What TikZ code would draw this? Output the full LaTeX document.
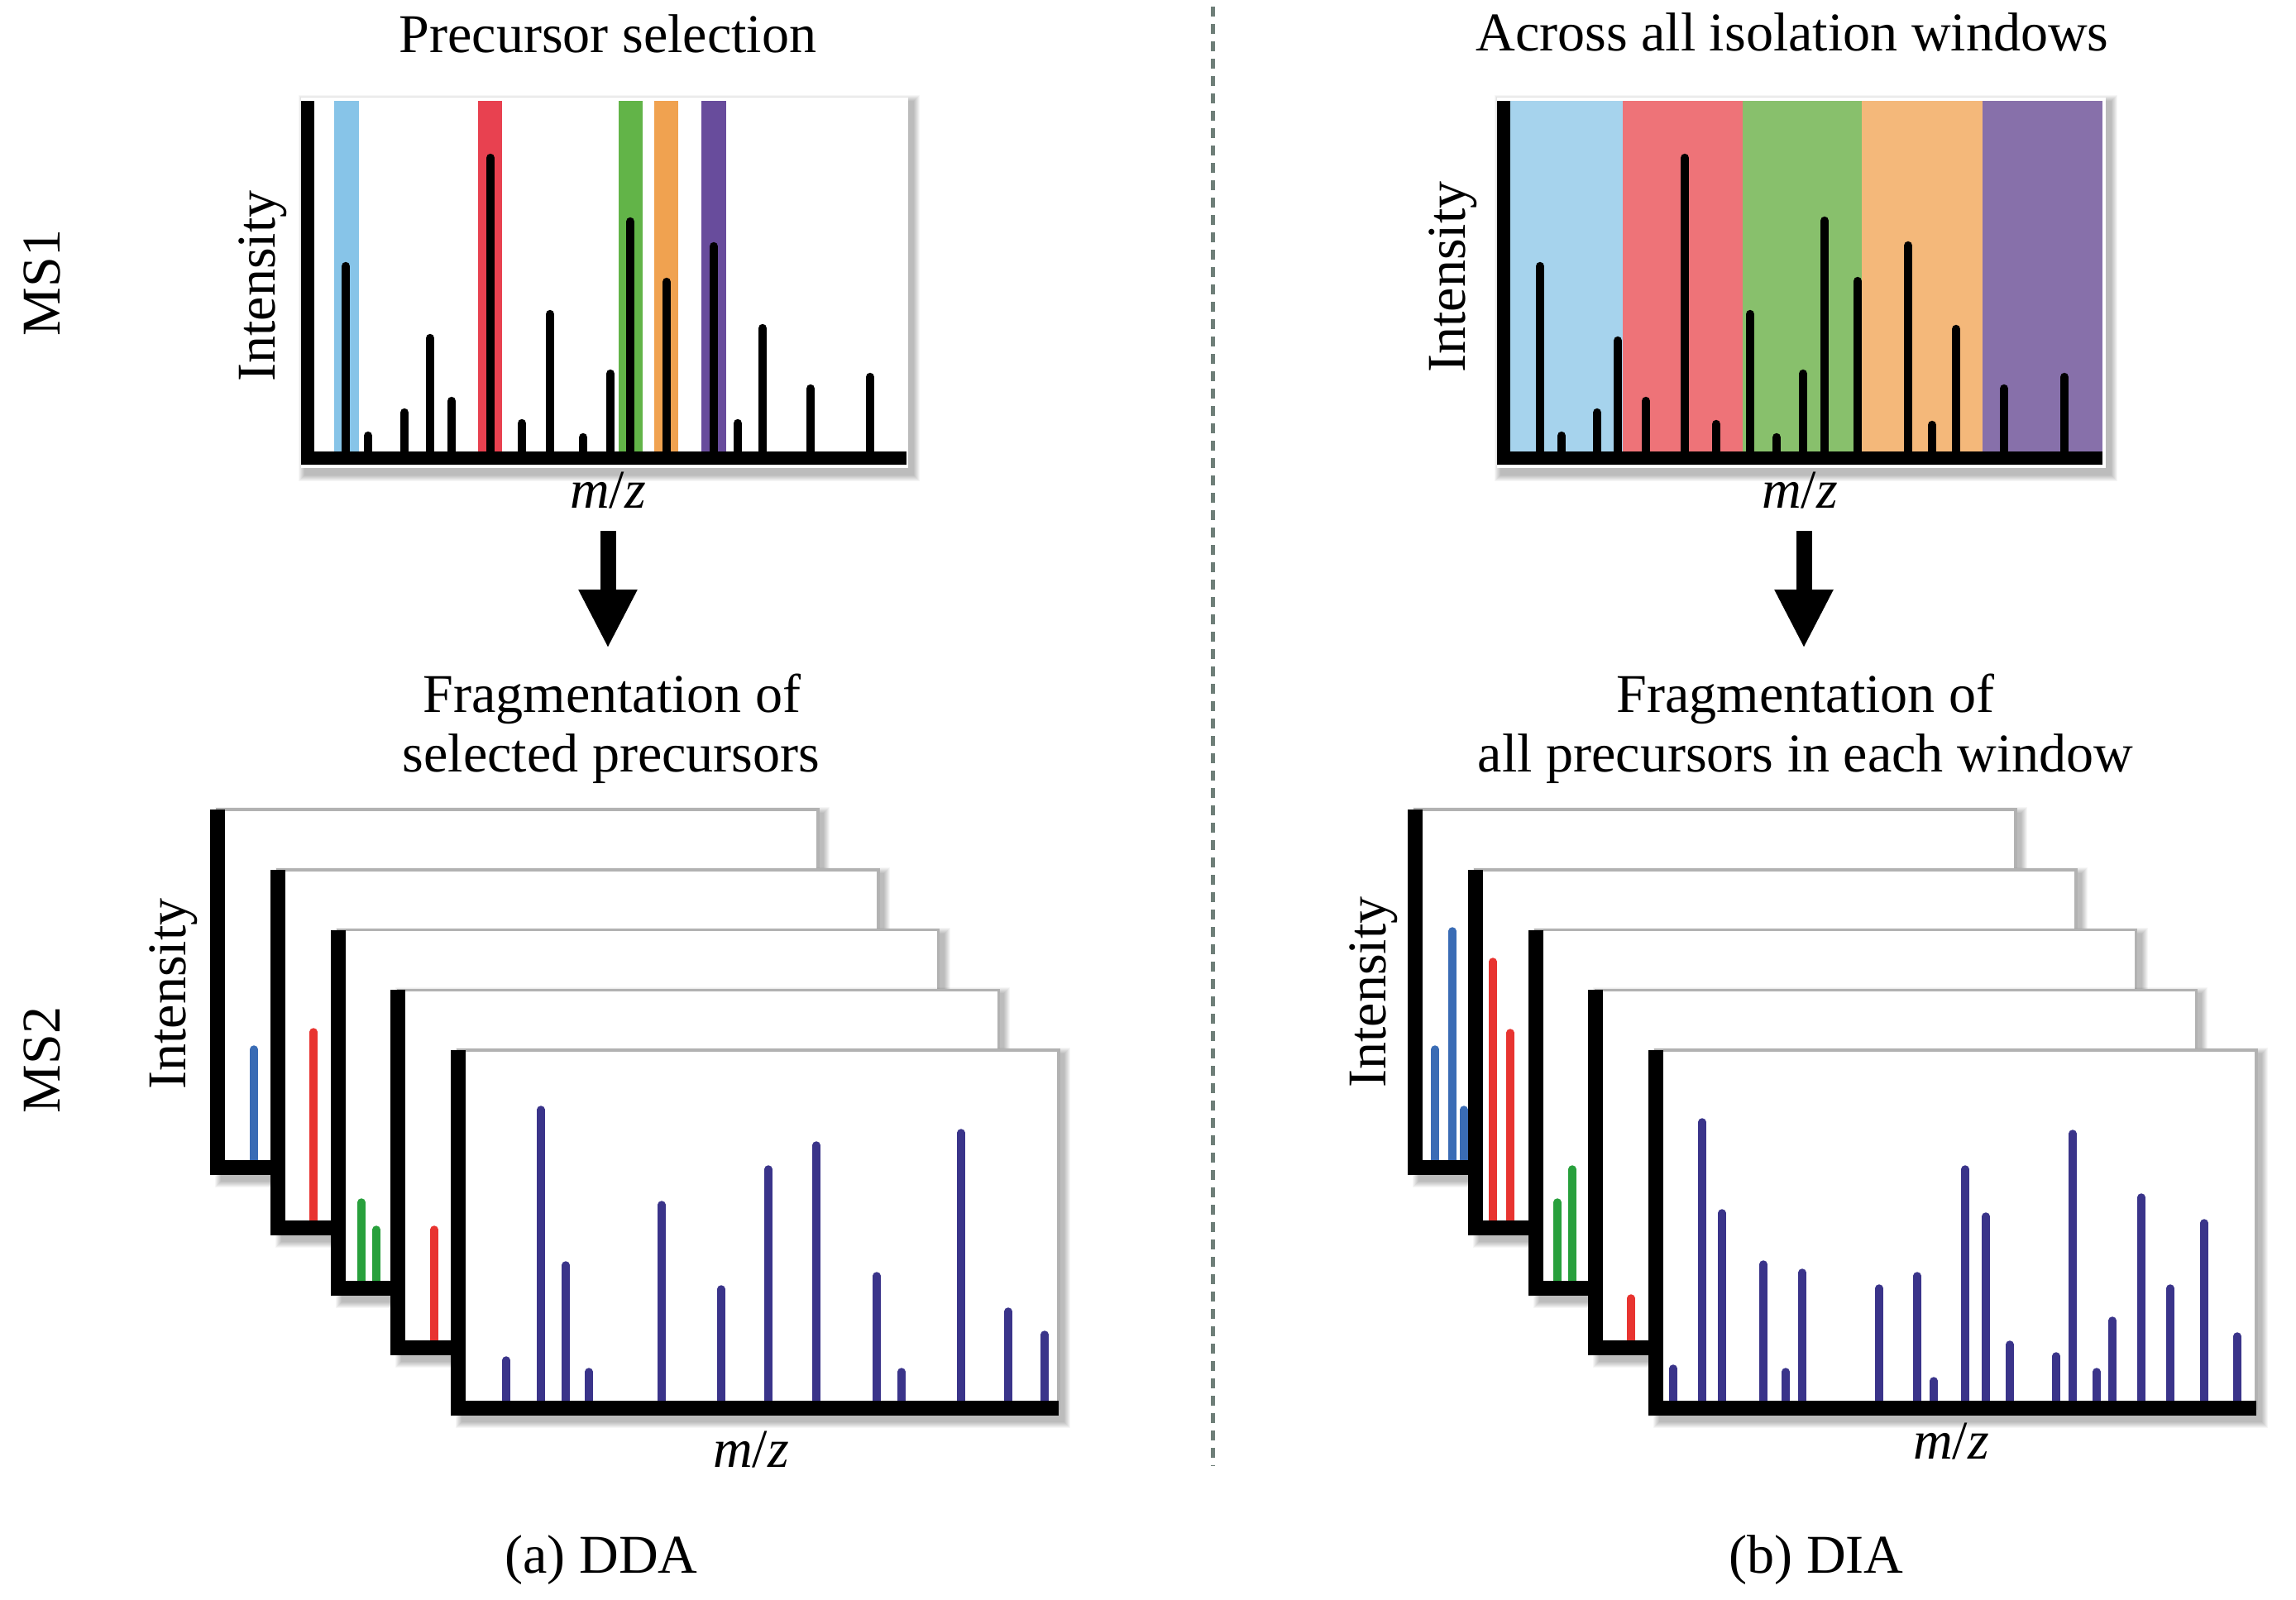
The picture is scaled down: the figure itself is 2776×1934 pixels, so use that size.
\documentclass[tikz,border=0pt]{standalone}
\usepackage{fontspec}
\setmainfont{Liberation Serif}
\usetikzlibrary{arrows.meta}
\definecolor{lblue}{RGB}{135,196,232}
\definecolor{lred}{RGB}{232,65,80}
\definecolor{lgreen}{RGB}{98,180,72}
\definecolor{lorange}{RGB}{240,162,80}
\definecolor{lpurple}{RGB}{104,76,156}
\definecolor{wblue}{RGB}{166,211,237}
\definecolor{wred}{RGB}{238,115,120}
\definecolor{wgreen}{RGB}{136,192,108}
\definecolor{worange}{RGB}{244,184,122}
\definecolor{wpurple}{RGB}{135,112,170}
\definecolor{pblue}{RGB}{58,108,181}
\definecolor{pred}{RGB}{232,52,48}
\definecolor{pgreen}{RGB}{40,160,60}
\definecolor{pind}{RGB}{58,52,138}
\definecolor{dashgray}{RGB}{110,126,120}
\newcommand\softshadow[4]{%
  \foreach \k in {1,...,8}{\fill[black,opacity=0.035] (#1-\k+5,#2-\k+5) rectangle (#3+\k+6,#4+\k+8);}}
\newcommand\mspanel[2]{%
  \softshadow{#1}{#2}{#1+726}{#2+441}
  \filldraw[fill=white,draw=black!30,line width=0.35mm] (#1,#2) rectangle (#1+726,#2+433);}
\newcommand\msaxes[2]{%
  \fill[black] (#1-9,#2) rectangle (#1+9,#2+442);
  \fill[black] (#1-9,#2+424) rectangle (#1+726,#2+442);}
\newcommand\pkk[4]{\draw[line width=0.95mm,line cap=round,#1] (#2,#3) -- (#2,#4+5);}
\begin{document}
\begin{tikzpicture}[x=0.1mm,y=-0.1mm,
  lbl/.style={font=\fontsize{18.8}{22}\selectfont,inner sep=0pt,anchor=base},
  vlbl/.style={lbl,rotate=90},
  pkm/.style={line width=1.05mm,line cap=round,black},
  bigarrow/.style={line width=1.9mm,-{Triangle[width=6.6mm,length=7.1mm]}},
  sep/.style={dashgray,line width=0.5mm,dash pattern=on 1.2mm off 0.9mm}]
\useasboundingbox (0,0) rectangle (2776,1934);
\fill[white] (0,0) rectangle (2776,1934);

% separator
\coordinate (sepTop) at (1466,8);
\coordinate (sepBot) at (1466,1772);
\draw[sep] (sepTop) -- (sepBot);

% ---------------- MS1 left (DDA) ----------------
\softshadow{364}{118}{1098}{566}
\fill[white] (364,118) rectangle (1098,566);
\fill[lblue] (404,122) rectangle (434,546);
\fill[lred] (578,122) rectangle (607,546);
\fill[lgreen] (748,122) rectangle (777,546);
\fill[lorange] (791,122) rectangle (820,546);
\fill[lpurple] (848,122) rectangle (878,546);
\foreach \px/\py in {418/317,445/522,489/494,520/404,546/480,593/186,631/507,665/375,705/524,738/447,762/263,806/336,863/293,892/507,922/392,980/465,1052/451}
  {\draw[pkm] (\px,546) -- (\px,\py+5);}
\fill[black] (364,122) rectangle (380,562);
\fill[black] (364,546) rectangle (1096,562);

% ---------------- MS1 right (DIA) ----------------
\softshadow{1810}{118}{2546}{566}
\fill[white] (1810,118) rectangle (2546,566);
\fill[wblue] (1826,122) rectangle (1962,546);
\fill[wred] (1962,122) rectangle (2107,546);
\fill[wgreen] (2107,122) rectangle (2251,546);
\fill[worange] (2251,122) rectangle (2397,546);
\fill[wpurple] (2397,122) rectangle (2542,546);
\foreach \px/\py in {1862/317,1888/522,1931/494,1956/407,1990/480,2037/186,2075/508,2116/375,2148/524,2180/447,2206/262,2246/335,2307/292,2336/509,2365/393,2423/465,2496/451}
  {\draw[pkm] (\px,546) -- (\px,\py+5);}
\fill[black] (1810,122) rectangle (1826,562);
\fill[black] (1810,546) rectangle (2542,562);

% ---------------- MS2 left stack ----------------
\mspanel{263}{979}
\pkk{pblue}{307}{1404}{1264}
\msaxes{263}{979}
\mspanel{335.75}{1051.75}
\pkk{pred}{379}{1476.75}{1243}
\msaxes{335.75}{1051.75}
\mspanel{408.5}{1124.5}
\pkk{pgreen}{437}{1549.5}{1449}
\pkk{pgreen}{455}{1549.5}{1482}
\msaxes{408.5}{1124.5}
\mspanel{481.25}{1197.25}
\pkk{pred}{525}{1622.25}{1482}
\msaxes{481.25}{1197.25}
\mspanel{554}{1270}
\foreach \px/\py in {612/1640,654/1337,684/1525,712/1654,800/1452,872/1554,929/1409,987/1380,1060/1538,1090/1654,1162/1365,1219/1581,1263/1609}
  {\pkk{pind}{\px}{1695}{\py}}
\msaxes{554}{1270}

% ---------------- MS2 right stack ----------------
\mspanel{1711}{979}
\pkk{pblue}{1735}{1404}{1264}
\pkk{pblue}{1756}{1404}{1121}
\pkk{pblue}{1770}{1404}{1337}
\msaxes{1711}{979}
\mspanel{1783.75}{1051.75}
\pkk{pred}{1805}{1476.75}{1158}
\pkk{pred}{1826}{1476.75}{1244}
\msaxes{1783.75}{1051.75}
\mspanel{1856.5}{1124.5}
\pkk{pgreen}{1883}{1549.5}{1449}
\pkk{pgreen}{1901}{1549.5}{1409}
\msaxes{1856.5}{1124.5}
\mspanel{1929.25}{1197.25}
\pkk{pred}{1972}{1622.25}{1565}
\msaxes{1929.25}{1197.25}
\mspanel{2002}{1270}
\foreach \px/\py in {2023/1650,2058/1352,2082/1462,2132/1524,2159/1654,2179/1534,2272/1553,2318/1538,2338/1665,2376/1409,2401/1466,2430/1621,2486/1635,2506/1366,2535/1654,2554/1592,2589/1443,2624/1553,2665/1474,2705/1611}
  {\pkk{pind}{\px}{1695}{\py}}
\msaxes{2002}{1270}

% ---------------- texts ----------------
\node[lbl] (titleA) at (735,63) {Precursor selection};
\node[lbl] (titleB) at (2167,61) {Across all isolation windows};
\node[vlbl] (ms1) at (72,342) {MS1};
\node[vlbl] (ms2) at (72,1282) {MS2};
\node[vlbl] (intA1) at (332,346) {Intensity};
\node[vlbl] (intB1) at (1771,335) {Intensity};
\node[vlbl] (intA2) at (224,1202) {Intensity};
\node[vlbl] (intB2) at (1675,1200) {Intensity};
\node[lbl] (mzA1) at (735,614) {\textit{m}/\textit{z}};
\node[lbl] (mzB1) at (2176,614) {\textit{m}/\textit{z}};
\node[lbl] (mzA2) at (908,1774) {\textit{m}/\textit{z}};
\node[lbl] (mzB2) at (2359,1764) {\textit{m}/\textit{z}};
\node[lbl] (fragA1) at (740,861) {Fragmentation of};
\node[lbl] (fragA2) at (739,933) {selected precursors};
\node[lbl] (fragB1) at (2183,861) {Fragmentation of};
\node[lbl] (fragB2) at (2183,933) {all precursors in each window};
\node[lbl] (capA) at (727,1902) {(a) DDA};
\node[lbl] (capB) at (2196,1902) {(b) DIA};

% arrows
\coordinate (arrAs) at (735,642);
\coordinate (arrAe) at (735,784);
\coordinate (arrBs) at (2181,642);
\coordinate (arrBe) at (2181,784);
\draw[bigarrow] (arrAs) -- (arrAe);
\draw[bigarrow] (arrBs) -- (arrBe);
\end{tikzpicture}
\end{document}
